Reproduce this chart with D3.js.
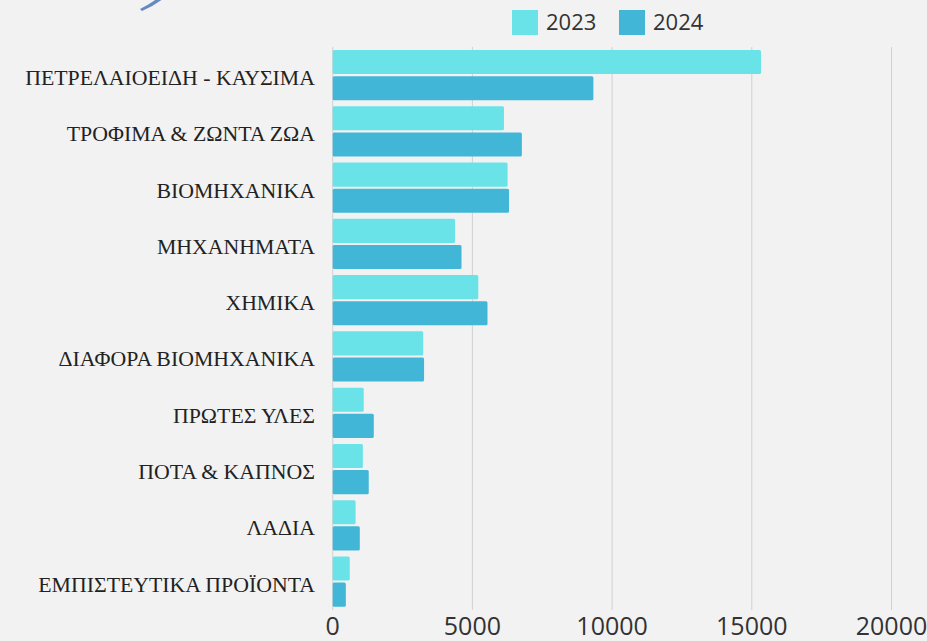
<!DOCTYPE html>
<html>
<head>
<meta charset="utf-8">
<script src="https://cdn.jsdelivr.net/npm/d3@7"></script>
<style>
  html, body { margin: 0; padding: 0; background: #f2f2f2; }
  svg { display: block; }
</style>
</head>
<body>
<div id="chart"></div>
<script>
const categories = [
  "ΠΕΤΡΕΛΑΙΟΕΙΔΗ - ΚΑΥΣΙΜΑ",
  "ΤΡΟΦΙΜΑ & ΖΩΝΤΑ ΖΩΑ",
  "ΒΙΟΜΗΧΑΝΙΚΑ",
  "ΜΗΧΑΝΗΜΑΤΑ",
  "ΧΗΜΙΚΑ",
  "ΔΙΑΦΟΡΑ ΒΙΟΜΗΧΑΝΙΚΑ",
  "ΠΡΩΤΕΣ ΥΛΕΣ",
  "ΠΟΤΑ & ΚΑΠΝΟΣ",
  "ΛΑΔΙΑ",
  "ΕΜΠΙΣΤΕΥΤΙΚΑ ΠΡΟΪΟΝΤΑ"
];
const seriesNames = ["2023", "2024"];
const values2023 = [15330, 6130, 6260, 4380, 5210, 3240, 1110, 1080, 820, 610];
const values2024 = [9330, 6770, 6310, 4610, 5540, 3270, 1470, 1290, 970, 470];
const xTicks = [0, 5000, 10000, 15000, 20000];
const colors = ["#69e3e8", "#42b6d7"];

const W = 927, H = 641;
const svg = d3.select("#chart").append("svg").attr("width", W).attr("height", H);
svg.append("rect").attr("width", W).attr("height", H).attr("fill", "#f2f2f2");

// partial logo mark at top-left edge
svg.append("path")
  .attr("d", "M140,9 Q150,4 158,-2 L164,-2 Q154,6 142,11 Z")
  .attr("fill", "#3f6fb5").attr("opacity", 0.8);

const x = d3.scaleLinear().domain([0, 20000]).range([332.7, 891.5]);
const y = d3.scaleBand().domain(categories).range([47, 609.7]).paddingInner(0.107).paddingOuter(0.0535);
const y1 = d3.scaleBand().domain(seriesNames).range([0, y.bandwidth()]).paddingInner(0.08);

// gridlines
svg.append("g").selectAll("line").data(xTicks).join("line")
  .attr("x1", d => x(d)).attr("x2", d => x(d))
  .attr("y1", 47).attr("y2", 610)
  .attr("stroke", "#d0d0d0").attr("stroke-width", 1);

const rows = categories.map((c, i) => ({ cat: c, vals: [values2023[i], values2024[i]] }));

const g = svg.append("g").selectAll("g").data(rows).join("g")
  .attr("transform", d => `translate(0,${y(d.cat)})`);

g.selectAll("rect").data(d => d.vals.map((v, j) => ({ s: seriesNames[j], v, j }))).join("rect")
  .attr("x", x(0))
  .attr("y", d => y1(d.s))
  .attr("width", d => x(d.v) - x(0))
  .attr("height", y1.bandwidth())
  .attr("rx", 1.5)
  .attr("fill", d => colors[d.j]);

// category labels
svg.append("g").selectAll("text").data(categories).join("text")
  .attr("x", 315)
  .attr("y", d => y(d) + y.bandwidth() / 2 + 10)
  .attr("text-anchor", "end")
  .attr("font-family", "'Liberation Serif', 'DejaVu Serif', serif")
  .attr("font-size", 21.8)
  .attr("fill", "#222")
  .text(d => d);

// x axis tick labels
svg.append("g").selectAll("text").data(xTicks).join("text")
  .attr("x", d => x(d))
  .attr("y", 635)
  .attr("text-anchor", "middle")
  .attr("font-family", "'Open Sans', sans-serif")
  .attr("font-size", 25)
  .attr("fill", "#333")
  .text(d => d);

// legend
const legend = svg.append("g");
const legendX = [512, 619];
seriesNames.forEach((s, i) => {
  legend.append("rect").attr("x", legendX[i]).attr("y", 10).attr("width", 26).attr("height", 25)
    .attr("fill", colors[i]);
  legend.append("text").attr("x", legendX[i] + 34).attr("y", 30)
    .attr("font-family", "'Open Sans', sans-serif").attr("font-size", 22)
    .attr("fill", "#333").text(s);
});
</script>
</body>
</html>
